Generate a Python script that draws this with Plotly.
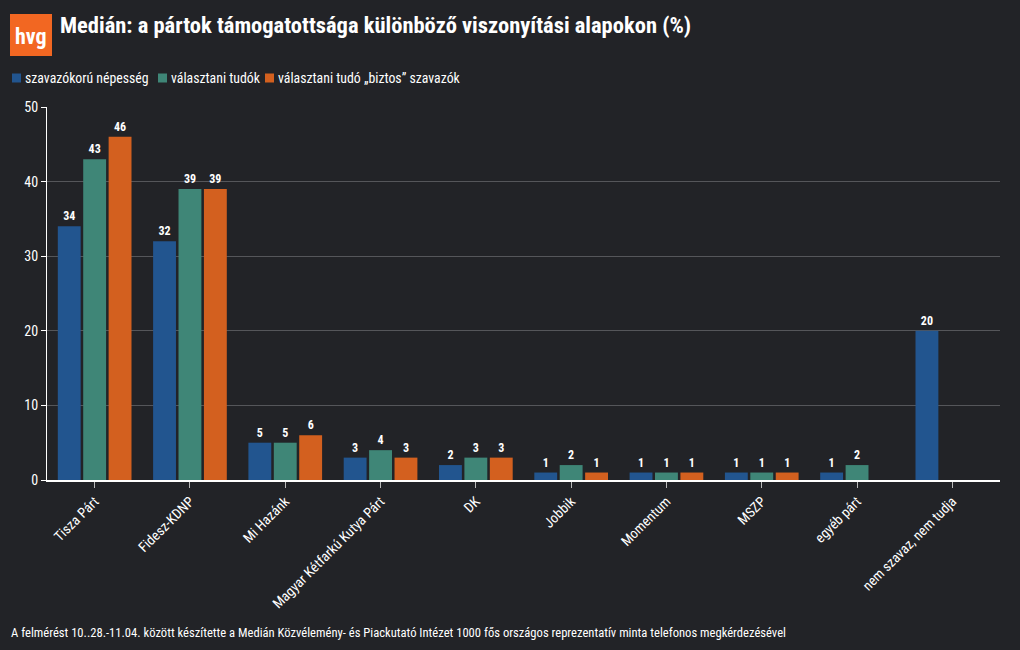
import plotly.graph_objects as go

categories = ["Tisza Párt", "Fidesz-KDNP", "Mi Hazánk", "Magyar Kétfarkú Kutya Párt", "DK",
              "Jobbik", "Momentum", "MSZP", "egyéb párt", "nem szavaz, nem tudja"]
series_names = ["szavazókorú népesség", "választani tudók", "választani tudó „biztos” szavazók"]
nepesseg = [34, 32, 5, 3, 2, 1, 1, 1, 1, 20]
tudok = [43, 39, 5, 4, 3, 2, 1, 1, 2, None]
biztos = [46, 39, 6, 3, 3, 1, 1, 1, None, None]
y_ticks = [0, 10, 20, 30, 40, 50]

colors = ["#22558f", "#3f8677", "#d3601f"]
FONT = "Roboto Condensed, Liberation Sans Narrow, Roboto, sans-serif"
BG = "#222327"

# plot area in pixels
L, R, T, B = 47, 1000, 107, 480
W, H = R - L, B - T


def px(x):
    return (x - L) / W


def py(y):
    return (B - y) / H


fig = go.Figure()
for name, vals, col in zip(series_names, [nepesseg, tudok, biztos], colors):
    fig.add_trace(go.Bar(
        x=categories, y=vals, name=name, marker=dict(color=col, line=dict(width=0)),
        text=[("" if v is None else "<b>%d</b>" % v) for v in vals], textposition="outside",
        textfont=dict(color="white", size=12, family=FONT), cliponaxis=False,
    ))

fig.update_layout(
    width=1020, height=650, paper_bgcolor=BG, plot_bgcolor=BG,
    margin=dict(l=L, r=1020 - R, t=T, b=650 - B, autoexpand=False),
    barmode="group", bargap=0.2, bargroupgap=0.1,
    font=dict(family=FONT, color="white", size=13),
    showlegend=False, hovermode=False,
    xaxis=dict(showline=True, linecolor="white", linewidth=1.5, ticks="outside", tickcolor="#bbbbbb",
               ticklen=6, tickangle=-45, tickfont=dict(size=14, color="white"), showgrid=False),
    yaxis=dict(range=[0, 50], tickvals=y_ticks, showline=True, linecolor="white", linewidth=1,
               ticks="outside", ticklen=5, tickcolor="white", gridcolor="#55565a", gridwidth=1,
               tickfont=dict(size=14, color="white"), zeroline=False),
    title=dict(text="<b>Medián: a pártok támogatottsága különböző viszonyítási alapokon (%)</b>",
               x=60/1020, xanchor="left", y=1 - 25/650, yanchor="middle",
               font=dict(size=22.5, color="white", family=FONT)),
)

# logo
fig.add_shape(type="rect", xref="paper", yref="paper", x0=px(10), x1=px(52),
              y0=py(56), y1=py(14), fillcolor="#f26722", line=dict(width=0), layer="above")
fig.add_annotation(text="<b>hvg</b>", x=px(31), y=py(36), xref="paper", yref="paper",
                   showarrow=False, font=dict(size=22, color="white", family=FONT),
                   xanchor="center", yanchor="middle")

# legend drawn manually
leg_x = [12, 158, 265]
for name, col, lx in zip(series_names, colors, leg_x):
    fig.add_shape(type="rect", xref="paper", yref="paper", x0=px(lx), x1=px(lx + 9),
                  y0=py(82.5), y1=py(73.5), fillcolor=col, line=dict(width=0))
    fig.add_annotation(text=name, x=px(lx + 11), y=py(78), xref="paper", yref="paper",
                       showarrow=False, xanchor="left", yanchor="middle",
                       font=dict(size=13.8, color="white"))

fig.add_annotation(text="A felmérést 10..28.-11.04. között készítette a Medián Közvélemény- és Piackutató Intézet 1000 fős országos reprezentatív minta telefonos megkérdezésével",
                   x=px(9), y=py(632), xref="paper", yref="paper", showarrow=False,
                   xanchor="left", yanchor="middle", font=dict(size=12.6, color="white"))

fig.write_html("out.html")
